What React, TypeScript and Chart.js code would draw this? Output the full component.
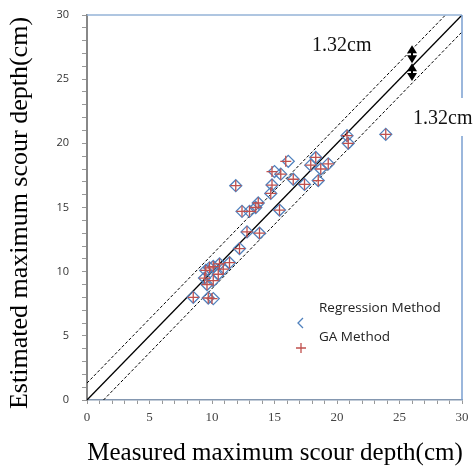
import React, { useEffect, useRef } from "react";
import { Chart, registerables } from "chart.js";

Chart.register(...registerables);

// Measured maximum scour depth (cm)
const measured = [
  11.9, 12.4, 13.0, 13.5, 13.7, 14.7, 14.8, 15.0, 15.5, 16.1, 16.5, 17.4, 15.4,
  18.3, 17.9, 18.7, 19.3, 18.5, 20.8, 20.9, 23.9, 12.8, 13.8, 12.2, 9.5, 10.1,
  10.6, 11.4, 10.9, 10.5, 9.4, 9.6, 10.1, 8.5, 9.7, 10.1, 9.8,
];
// Estimated by regression method (cm)
const regressionEst = [
  16.7, 14.7, 14.7, 15.0, 15.35, 16.1, 16.75, 17.8, 17.6, 18.6, 17.2, 16.8, 14.8,
  18.9, 18.3, 18.0, 18.4, 17.1, 20.6, 20.0, 20.7, 13.1, 13.0, 11.8, 10.1, 10.4,
  10.6, 10.7, 10.2, 9.8, 9.5, 9.0, 9.3, 8.0, 7.95, 7.9, 10.3,
];
// Estimated by GA method (cm)
const gaEst = [
  16.7, 14.7, 14.7, 15.0, 15.35, 16.1, 16.75, 17.8, 17.6, 18.6, 17.2, 16.8, 14.8,
  18.9, 18.3, 18.0, 18.4, 17.1, 20.6, 20.0, 20.7, 13.1, 13.0, 11.8, 10.1, 10.4,
  10.6, 10.7, 10.2, 9.8, 9.5, 9.0, 9.3, 8.0, 7.95, 7.9, 10.3,
];
const gaMeasured = [
  11.9, 12.4, 13.0, 13.5, 13.7, 14.7, 14.8, 14.8, 15.5, 15.9, 16.5, 17.4, 15.4,
  18.3, 17.9, 18.7, 19.3, 18.5, 20.8, 20.9, 23.9, 12.8, 13.8, 12.2, 9.5, 10.1,
  10.6, 11.4, 10.9, 10.5, 9.4, 9.6, 10.1, 8.5, 9.7, 10.0, 9.8,
];

const AXIS_MIN = 0;
const AXIS_MAX = 30;
const ERR = 1.32; // error band (cm)
const ARROW_X = 26;
const arrowTop = [27.65, 26.25];
const arrowBottom = [26.25, 24.85];
const tickLabels = [0, 5, 10, 15, 20, 25, 30];

const xTitle = "Measured maximum scour depth(cm)";
const yTitle = "Estimated maximum scour depth(cm)";
const errLabel = "1.32cm";
const legendLabels = ["Regression Method", "GA Method"];

const serif = "'Liberation Serif', 'Times New Roman', serif";
const sans = "'Open Sans', 'Noto Sans', sans-serif";

function drawHead(ctx: CanvasRenderingContext2D, x: number, y: number, dir: number) {
  // dir: -1 pointing up, +1 pointing down
  ctx.beginPath();
  ctx.moveTo(x, y);
  ctx.lineTo(x - 5, y - dir * 8);
  ctx.lineTo(x + 5, y - dir * 8);
  ctx.closePath();
  ctx.fill();
}

const decor = {
  id: "decor",
  afterDraw(chart: any) {
    const { ctx, chartArea, scales } = chart;
    const xs = scales.x;
    const ys = scales.y;
    ctx.save();
    // top & right border
    ctx.strokeStyle = "#95b3d7";
    ctx.lineWidth = 1.5;
    ctx.beginPath();
    ctx.moveTo(chartArea.left, chartArea.top);
    ctx.lineTo(chartArea.right, chartArea.top);
    ctx.stroke();
    ctx.strokeStyle = "#7a9fd0";
    ctx.beginPath();
    ctx.moveTo(chartArea.right, chartArea.top);
    ctx.lineTo(chartArea.right, chartArea.bottom);
    ctx.stroke();

    // arrows
    ctx.strokeStyle = "#000";
    ctx.fillStyle = "#000";
    ctx.lineWidth = 2;
    const ax = xs.getPixelForValue(ARROW_X);
    for (let i = 0; i < 2; i++) {
      const y1 = ys.getPixelForValue(arrowTop[i]);
      const y2 = ys.getPixelForValue(arrowBottom[i]);
      ctx.beginPath();
      ctx.moveTo(ax, y1 + 5);
      ctx.lineTo(ax, y2 - 5);
      ctx.stroke();
      drawHead(ctx, ax, y1, -1);
      drawHead(ctx, ax, y2, 1);
    }

    // error labels
    ctx.font = `20px ${serif}`;
    ctx.textBaseline = "middle";
    ctx.textAlign = "left";
    ctx.fillStyle = "#111";
    ctx.fillText(errLabel, 312, 46);
    const w = ctx.measureText(errLabel).width;
    ctx.fillStyle = "#fff";
    ctx.fillRect(412, 98, w + 6, 38);
    ctx.fillStyle = "#111";
    ctx.fillText(errLabel, 413, 119);

    // legend
    ctx.strokeStyle = "#4f81bd";
    ctx.lineWidth = 1.3;
    ctx.beginPath();
    ctx.moveTo(303, 318);
    ctx.lineTo(298, 323);
    ctx.lineTo(303, 328);
    ctx.stroke();
    ctx.strokeStyle = "#c0504d";
    ctx.beginPath();
    ctx.moveTo(296, 348);
    ctx.lineTo(306, 348);
    ctx.moveTo(301, 343);
    ctx.lineTo(301, 353);
    ctx.stroke();
    ctx.fillStyle = "#222";
    ctx.font = `13.5px ${sans}`;
    ctx.fillText(legendLabels[0], 319, 308);
    ctx.fillText(legendLabels[1], 319, 337);

    // axis titles
    ctx.fillStyle = "#000";
    ctx.font = `25px ${serif}`;
    ctx.textAlign = "center";
    ctx.fillText(xTitle, 275, 453);
    ctx.font = `26px ${serif}`;
    ctx.translate(20, 213);
    ctx.rotate(-Math.PI / 2);
    ctx.fillText(yTitle, 0, 0);
    ctx.restore();
  },
};

export default function App() {
  const ref = useRef<HTMLCanvasElement>(null);
  useEffect(() => {
    document.body.style.margin = "0";
    const pts = (xs: number[], ys: number[]) => xs.map((x, i) => ({ x, y: ys[i] }));
    const chart = new Chart(ref.current!, {
      type: "scatter",
      data: {
        datasets: [
          {
            label: legendLabels[1],
            data: pts(gaMeasured, gaEst),
            pointStyle: "cross",
            pointRadius: 5.5,
            borderColor: "#c0504d",
            borderWidth: 1.3,
          },
          {
            label: legendLabels[0],
            data: pts(measured, regressionEst),
            pointStyle: "rectRot",
            pointRadius: 6,
            borderColor: "#4f81bd",
            backgroundColor: "rgba(0,0,0,0)",
            borderWidth: 1.3,
          },
          {
            label: "1:1",
            data: [
              { x: AXIS_MIN, y: AXIS_MIN },
              { x: AXIS_MAX, y: AXIS_MAX },
            ],
            showLine: true,
            pointRadius: 0,
            borderColor: "#000",
            borderWidth: 1.3,
          },
          {
            label: "+err",
            data: [
              { x: AXIS_MIN, y: AXIS_MIN + ERR },
              { x: AXIS_MAX - ERR, y: AXIS_MAX },
            ],
            showLine: true,
            pointRadius: 0,
            borderColor: "#000",
            borderWidth: 1,
            borderDash: [3, 2],
          },
          {
            label: "-err",
            data: [
              { x: AXIS_MIN + ERR, y: AXIS_MIN },
              { x: AXIS_MAX, y: AXIS_MAX - ERR },
            ],
            showLine: true,
            pointRadius: 0,
            borderColor: "#000",
            borderWidth: 1,
            borderDash: [3, 2],
          },
        ],
      },
      options: {
        animation: false,
        responsive: false,
        devicePixelRatio: 1,
        layout: { padding: { top: 15, right: 12, left: 0, bottom: 0 } },
        plugins: { legend: { display: false }, tooltip: { enabled: false } },
        scales: {
          x: {
            type: "linear",
            min: AXIS_MIN,
            max: AXIS_MAX,
            afterFit: (s: any) => {
              s.height = 70;
              s.paddingLeft = 0;
              s.paddingRight = 0;
            },
            ticks: {
              stepSize: 1,
              autoSkip: false,
              maxRotation: 0,
              padding: 6,
              color: "#444",
              font: { family: serif, size: 13 },
              callback: (v: any) => (tickLabels.includes(v) ? String(v) : ""),
            },
            grid: { drawOnChartArea: false, drawTicks: true, tickLength: 4, color: "#999" },
            border: { color: "#8497b0", width: 1.5 },
          },
          y: {
            type: "linear",
            min: AXIS_MIN,
            max: AXIS_MAX,
            afterFit: (s: any) => {
              s.width = 87;
              s.paddingTop = 0;
              s.paddingBottom = 0;
            },
            ticks: {
              stepSize: 1,
              autoSkip: false,
              padding: 13,
              color: "#333",
              font: { family: sans, size: 11 },
              callback: (v: any) => (tickLabels.includes(v) ? String(v) : ""),
            },
            grid: { drawOnChartArea: false, drawTicks: true, tickLength: 5, color: "#999" },
            border: { color: "#888", width: 2 },
          },
        },
      },
      plugins: [decor],
    });
    return () => chart.destroy();
  }, []);
  return (
    <div style={{ width: 474, height: 470 }}>
      <canvas ref={ref} width={474} height={470} />
    </div>
  );
}
